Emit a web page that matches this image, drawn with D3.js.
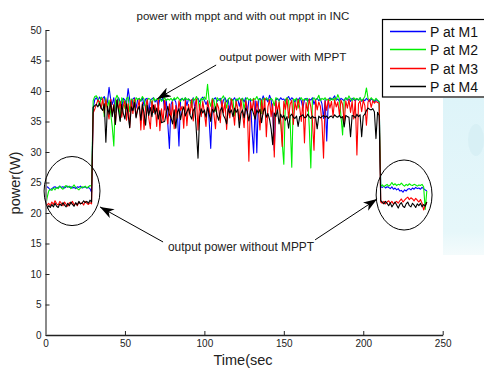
<!DOCTYPE html>
<html lang="en">
<head>
  <meta charset="UTF-8">
  <title>power with mppt and with out mppt in INC</title>
  <script src="https://cdn.jsdelivr.net/npm/d3@7"></script>
  <style>
    body { margin: 0; background: white; }
    svg { display: block; font-family: "Liberation Sans", Arial, sans-serif; }
    .tick text { font-size: 10px; fill: #222; }
  </style>
</head>
<body>
  <div id="chart"></div>
  <script>
    // time in seconds, one sample per second
    const time = d3.range(0, 241)

    const seriesNames = ['P at M1', 'P at M2', 'P at M3', 'P at M4']
    const seriesColors = ['#0000ff', '#00ee00', '#ff0000', '#000000']

    const pM1 = [
      24.2,24.3,24.1,23.8,24.0,24.2,24.3,24.1,24.2,24.4,24.2,24.3,24.1,24.3,24.4,24.2,24.3,24.1,24.2,24.0,24.3,24.2,24.4,24.1,24.2,24.3,24.1,24.2,24.0,23.4,
      37.2,38.6,38.9,38.4,39.0,38.6,38.8,39.1,37.5,38.2,
      40.6,38.7,37.8,38.9,36.5,38.4,38.9,38.2,37.4,38.8,
      38.5,37.9,40.4,38.6,36.8,38.7,38.9,37.2,38.6,38.8,
      38.3,38.9,37.6,38.7,38.8,36.4,38.5,38.7,38.9,38.2,
      38.6,37.3,38.8,38.5,38.9,36.9,38.6,34.5,30.6,37.8,
      38.5,38.7,38.2,36.4,31.0,38.6,38.8,38.4,38.9,37.6,
      38.7,38.5,38.3,38.9,37.1,38.6,38.8,38.2,38.7,39.0,
      38.5,37.8,38.4,35.2,30.6,37.9,38.7,38.9,38.3,38.6,
      38.8,37.4,38.5,38.9,38.2,38.6,36.8,38.7,38.5,38.9,
      38.3,38.7,37.5,38.6,38.8,38.2,38.9,36.2,38.5,38.7,
      33.5,29.8,38.4,29.9,38.6,38.8,38.3,39.2,38.5,38.7,
      38.2,39.3,38.6,36.4,30.3,38.5,38.8,38.4,38.9,38.6,
      38.7,38.3,38.8,39.1,38.5,38.9,38.6,38.2,38.8,38.5,
      38.9,38.4,37.2,38.6,38.8,38.3,38.7,38.5,38.9,37.8,
      38.6,38.8,38.4,38.7,37.9,35.5,38.6,31.8,38.5,38.9,
      38.6,38.8,39.2,38.5,38.7,38.3,38.8,38.6,38.4,38.9,
      38.5,38.7,38.3,38.8,38.6,38.4,38.7,38.5,38.9,38.3,
      38.6,38.4,38.8,38.5,38.3,38.7,38.5,38.2,38.6,38.4,
      38.2,
      24.3,24.2,24.4,24.1,24.3,24.2,24.0,24.3,23.9,24.1,
      23.8,24.0,23.6,23.7,23.4,23.8,23.6,23.9,24.0,23.8,
      24.1,23.9,24.2,24.0,24.1,23.9,24.2,24.0,23.8,23.6
    ]

    const pM2 = [
      20.8,22.5,23.6,23.9,23.7,24.1,23.8,24.2,24.0,24.4,24.1,23.9,24.3,24.5,24.2,24.4,24.0,24.3,24.6,24.2,24.0,23.8,24.1,24.3,24.2,24.4,24.1,24.3,24.5,24.4,
      38.4,39.1,39.2,38.8,37.6,39.0,38.7,35.8,38.9,37.2,
      38.5,36.4,34.2,31.0,38.6,39.3,38.7,35.2,38.9,38.4,
      37.1,38.8,39.0,36.6,38.7,38.5,37.4,38.9,38.6,38.8,
      38.4,39.1,38.7,36.9,38.5,38.8,38.6,37.8,38.9,38.4,
      38.7,38.5,38.8,38.3,38.6,38.9,38.4,38.7,38.5,38.8,
      38.4,38.9,38.6,39.0,38.7,38.3,38.8,38.5,38.9,38.6,
      38.7,38.4,37.3,38.8,38.5,39.1,38.6,37.0,38.8,38.5,
      39.0,38.6,41.1,38.4,37.5,38.8,38.5,36.7,38.9,38.6,
      38.4,38.8,39.2,38.5,37.2,38.7,38.9,38.3,38.6,35.9,
      38.7,38.5,38.9,38.4,38.8,37.0,38.6,38.9,38.5,38.7,
      38.4,38.8,38.6,39.1,38.5,38.7,36.3,38.8,38.5,38.9,
      38.6,38.4,38.8,38.5,37.6,38.9,38.7,38.4,35.5,31.5,
      28.0,38.6,38.9,38.4,35.0,27.5,38.7,38.5,38.8,37.2,
      38.6,38.9,38.4,38.7,38.5,38.8,34.2,27.4,38.6,38.9,
      38.5,38.7,39.3,38.4,38.8,38.6,38.9,38.5,38.7,38.4,
      38.8,38.5,38.9,38.6,39.4,38.7,35.8,32.8,38.5,38.9,
      38.6,39.2,38.7,38.4,38.9,38.6,38.8,38.5,38.9,38.4,
      38.7,39.1,40.5,38.8,38.5,38.9,38.6,38.4,38.8,38.5,
      38.3,
      24.4,24.6,24.3,24.5,24.7,24.4,24.6,25.0,24.6,24.8,
      24.5,24.7,24.6,24.9,24.6,24.4,24.7,24.5,24.8,24.6,
      24.5,24.7,24.6,24.4,24.6,24.5,24.7,24.3,20.6,23.6
    ]

    const pM3 = [
      20.9,21.3,21.6,21.2,21.8,21.4,22.0,21.5,21.3,21.9,21.6,21.2,21.8,21.4,21.1,21.7,21.5,21.9,21.3,21.6,21.2,21.8,21.5,21.7,21.3,21.9,21.6,21.4,21.7,21.5,
      36.4,37.0,37.8,38.5,38.2,37.1,38.8,36.4,38.6,36.8,
      35.4,38.7,36.2,37.8,34.6,38.5,36.9,38.3,35.7,37.6,
      38.4,35.2,37.9,34.0,38.5,36.3,38.7,35.8,37.2,38.6,
      33.6,38.1,33.7,37.4,38.6,35.6,33.8,38.4,36.5,37.8,
      34.2,38.6,33.5,37.1,35.0,38.5,36.3,34.6,37.9,35.4,
      38.2,33.8,37.6,35.6,38.4,36.8,37.5,33.9,38.5,34.3,
      37.8,36.2,38.6,35.1,37.4,38.7,33.6,37.9,35.8,38.3,
      36.5,34.2,38.4,37.0,35.5,38.6,36.2,33.8,38.0,37.2,
      34.8,38.5,36.4,38.2,33.7,37.6,35.6,38.7,36.9,34.4,
      38.3,37.1,35.2,38.6,36.5,34.0,38.4,37.3,28.5,38.2,
      36.8,38.7,35.4,38.3,37.0,33.6,38.5,36.2,38.8,32.5,
      37.4,38.6,35.8,37.9,29.2,38.4,36.6,38.2,35.1,30.9,
      38.3,37.0,38.7,35.6,37.8,38.5,34.5,38.2,36.9,38.6,
      37.3,35.0,38.4,31.5,38.1,36.7,38.6,37.4,35.2,30.3,
      38.5,36.9,38.2,37.5,35.0,29.0,38.4,36.8,38.6,37.2,
      38.3,35.9,38.6,37.4,38.2,36.1,38.5,37.8,34.8,38.4,
      37.2,38.6,36.5,38.3,35.4,38.5,29.5,37.9,38.4,36.6,
      38.5,37.6,34.4,38.2,38.6,37.3,38.4,38.0,38.3,38.1,
      38.0,
      21.8,21.6,21.9,21.5,21.8,22.0,21.6,21.9,21.5,21.7,
      21.9,21.6,22.0,22.3,21.8,22.1,22.4,22.6,22.2,22.5,
      22.3,22.0,22.4,22.1,21.8,22.2,21.6,20.5,21.2,21.8
    ]

    const pM4 = [
      20.5,20.8,21.2,20.9,21.4,21.0,21.6,21.1,20.9,21.5,21.2,21.7,21.3,21.0,21.6,21.2,21.8,21.4,21.1,21.7,21.3,21.9,21.5,21.6,22.0,21.7,21.9,21.6,22.1,21.8,
      37.3,37.6,37.8,37.4,38.0,37.2,36.8,37.9,31.6,37.5,
      36.2,38.2,35.8,37.6,34.5,38.5,36.7,35.0,37.8,36.3,
      35.4,37.9,36.1,34.0,37.4,36.8,38.1,35.6,36.9,37.5,
      35.2,37.8,36.4,34.4,37.6,36.0,37.3,35.8,37.7,36.2,
      37.2,35.4,36.8,34.8,34.9,35.0,36.4,37.5,36.1,35.6,
      34.6,36.9,33.9,36.5,37.1,35.3,36.7,37.4,35.9,36.6,
      37.2,36.0,35.4,36.8,37.3,33.2,29.0,35.8,37.1,36.4,
      36.9,35.7,37.3,36.2,35.0,37.0,36.5,37.4,36.1,35.2,
      36.8,37.3,36.0,35.5,34.6,37.1,36.4,36.9,35.8,37.2,
      36.5,37.0,34.0,36.3,36.9,35.6,37.2,36.7,35.1,36.8,
      37.1,36.2,35.4,36.9,36.4,37.0,34.8,36.6,37.2,35.7,
      36.3,35.4,33.8,31.2,36.4,35.8,36.9,34.6,36.2,35.6,
      36.0,35.2,35.8,33.9,35.9,36.2,35.7,35.5,35.9,34.2,
      35.8,35.9,36.1,35.6,35.7,36.2,35.8,35.5,35.9,35.6,
      35.7,33.8,35.9,35.6,35.8,36.0,35.7,35.9,35.5,35.8,
      35.9,35.6,36.1,35.8,35.7,36.0,35.6,35.8,34.1,36.0,
      35.8,35.7,32.5,36.0,35.9,35.6,36.2,35.8,36.1,32.5,
      35.9,36.2,36.8,37.2,37.0,36.9,37.1,36.6,32.2,36.5,
      36.0,
      22.0,21.8,21.5,21.9,21.6,21.2,21.7,21.0,21.4,21.8,
      21.3,20.8,21.4,21.7,21.1,20.9,21.5,21.8,21.2,21.0,
      21.6,21.3,20.9,21.5,21.2,21.6,21.0,21.4,21.1,21.8
    ]

    const xTicks = [0, 50, 100, 150, 200, 250]
    const yTicks = [0, 5, 10, 15, 20, 25, 30, 35, 40, 45, 50]

    const width = 484
    const height = 369

    const xScale = d3.scaleLinear().domain([0, 250]).range([45.5, 442.7])
    const yScale = d3.scaleLinear().domain([0, 50]).range([335, 30])

    const svg = d3.select('#chart')
      .append('svg')
      .attr('width', width)
      .attr('height', height)

    // faded picture left behind the figure on the right edge
    const fade = svg.append('defs').append('linearGradient')
      .attr('id', 'fade').attr('x1', 0).attr('y1', 0).attr('x2', 0).attr('y2', 1)
    fade.append('stop').attr('offset', 0).attr('stop-color', '#def4f9')
    fade.append('stop').attr('offset', 0.85).attr('stop-color', '#e6f7fa')
    fade.append('stop').attr('offset', 1).attr('stop-color', '#f4fbfc')
    svg.append('rect')
      .attr('x', 443).attr('y', 98)
      .attr('width', 41).attr('height', 157)
      .attr('fill', 'url(#fade)')
    svg.append('ellipse')
      .attr('cx', 476).attr('cy', 140).attr('rx', 8).attr('ry', 16)
      .attr('fill', '#d4eef3').attr('opacity', 0.7)

    // arrow heads
    svg.select('defs').append('marker')
      .attr('id', 'head')
      .attr('viewBox', '0 0 14 10')
      .attr('refX', 14).attr('refY', 5)
      .attr('markerWidth', 14).attr('markerHeight', 10)
      .attr('markerUnits', 'userSpaceOnUse')
      .attr('orient', 'auto')
      .append('path')
      .attr('d', 'M0,0 L14,5 L0,10 L4,5 Z')
      .attr('fill', 'black')

    // data lines
    const line = d3.line()
      .x((d, i) => xScale(time[i]))
      .y(d => yScale(d))

    const allSeries = [pM1, pM2, pM3, pM4]
    allSeries.forEach((s, k) => {
      svg.append('path')
        .datum(s)
        .attr('fill', 'none')
        .attr('stroke', seriesColors[k])
        .attr('stroke-width', 1.1)
        .attr('stroke-linejoin', 'round')
        .attr('d', line)
    })

    // axes
    const xAxis = d3.axisBottom(xScale).tickValues(xTicks).tickSizeInner(-4).tickSizeOuter(0).tickPadding(5)
    const yAxis = d3.axisLeft(yScale).tickValues(yTicks).tickSizeInner(-4).tickSizeOuter(0).tickPadding(4)

    const gx = svg.append('g')
      .attr('transform', `translate(0, ${yScale(0)})`)
      .call(xAxis)
    gx.select('.domain').attr('stroke', '#222').attr('stroke-width', 1.3)
    gx.selectAll('.tick line').attr('stroke', '#222')

    const gy = svg.append('g')
      .attr('transform', `translate(${xScale(0)}, 0)`)
      .call(yAxis)
    gy.select('.domain').attr('stroke', '#8a8a8a').attr('stroke-width', 2)
    gy.selectAll('.tick line').attr('stroke', '#222')

    // title and axis labels
    svg.append('text')
      .attr('x', 243).attr('y', 20)
      .attr('text-anchor', 'middle')
      .style('font-size', '11.5px')
      .attr('fill', '#222')
      .text('power with mppt and with out mppt in INC')

    svg.append('text')
      .attr('transform', 'translate(20, 183) rotate(-90)')
      .attr('text-anchor', 'middle')
      .style('font-size', '14.5px')
      .attr('fill', '#222')
      .text('power(W)')

    svg.append('text')
      .attr('x', 243).attr('y', 365)
      .attr('text-anchor', 'middle')
      .style('font-size', '14.5px')
      .attr('fill', '#222')
      .text('Time(sec')

    // annotations (in data units)
    const ellipses = [
      { t: 16.7, p: 23.6, rt: 17.6, rp: 5.66 },
      { t: 225.7, p: 22.95, rt: 17.6, rp: 5.74 }
    ]
    ellipses.forEach(e => {
      svg.append('ellipse')
        .attr('cx', xScale(e.t)).attr('cy', yScale(e.p))
        .attr('rx', xScale(e.rt) - xScale(0))
        .attr('ry', yScale(0) - yScale(e.rp))
        .attr('fill', 'none').attr('stroke', 'black').attr('stroke-width', 1)
    })

    const arrows = [
      { t0: 107.4, p0: 44.26, t1: 70.2, p1: 38.7 },
      { t0: 74, p0: 15.25, t1: 34.3, p1: 21 },
      { t0: 169.7, p0: 15.6, t1: 208.7, p1: 22.3 }
    ]
    arrows.forEach(a => {
      svg.append('line')
        .attr('x1', xScale(a.t0)).attr('y1', yScale(a.p0))
        .attr('x2', xScale(a.t1)).attr('y2', yScale(a.p1))
        .attr('stroke', 'black').attr('stroke-width', 1)
        .attr('marker-end', 'url(#head)')
    })

    svg.append('text')
      .attr('x', xScale(109.3)).attr('y', yScale(44.9))
      .style('font-size', '11.7px').attr('fill', '#222')
      .text('output power with MPPT')

    svg.append('text')
      .attr('x', xScale(77.1)).attr('y', yScale(13.85))
      .style('font-size', '11.9px').attr('fill', '#222')
      .text('output power without MPPT')

    // legend
    const legend = svg.append('g')
    legend.append('rect')
      .attr('x', 382.5).attr('y', 19.5)
      .attr('width', 110).attr('height', 77.5)
      .attr('fill', 'white').attr('stroke', 'black').attr('stroke-width', 1.2)

    seriesNames.forEach((name, k) => {
      const y = Math.round(31 + k * 18.3) + 0.5
      legend.append('line')
        .attr('x1', 390).attr('x2', 426)
        .attr('y1', y).attr('y2', y)
        .attr('stroke', seriesColors[k]).attr('stroke-width', 1.5)
      legend.append('text')
        .attr('x', 430).attr('y', y + 5)
        .style('font-size', '14px').attr('fill', '#111')
        .text(name)
    })
  </script>
</body>
</html>
